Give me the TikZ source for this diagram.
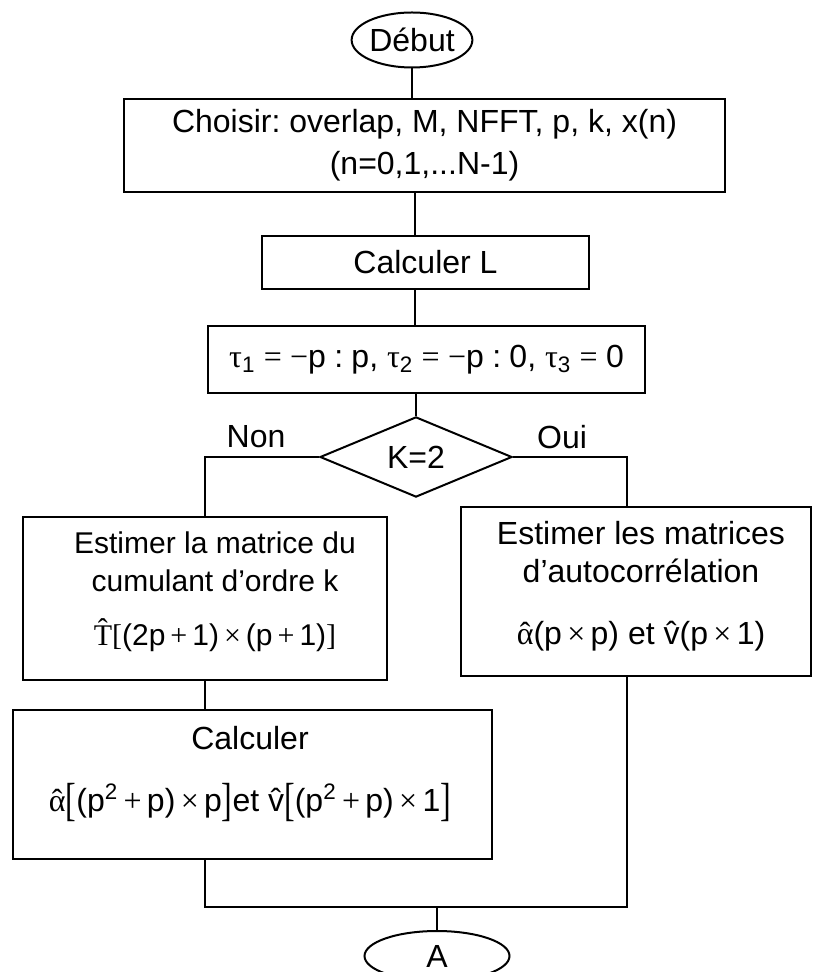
\documentclass[tikz,border=0pt]{standalone}
\usepackage{fontspec}
\usepackage{graphicx}
\setmainfont{Liberation Sans}
\newfontfamily\symf{Liberation Serif}
\usetikzlibrary{shapes.geometric}
\newcommand\bigbr[1]{\raisebox{-0.12em}{\scalebox{1}[1.45]{\symf #1}}}
\newcommand\hatx[2]{{\ooalign{#2\cr\hidewidth\raisebox{#1}{\symf\char"02C6}\hidewidth\cr}}}
\newcommand\gap{\hspace{0.26em}}
\tikzset{
  box/.style={draw, line width=1pt, rectangle, inner sep=0pt, align=center},
  term/.style={draw, ellipse, line width=1pt, inner sep=0pt},
  dec/.style={draw, diamond, line width=1pt, inner sep=0pt},
  conn/.style={line width=1pt},
  lab/.style={inner sep=0pt},
  txt/.style={inner sep=0pt, align=center}
}
\begin{document}
\begin{tikzpicture}[x=0.5pt,y=-0.5pt, every node/.style={font=\fontsize{16}{19}\selectfont\frenchspacing}]
\useasboundingbox (0,0) rectangle (814,972);
\clip (0,0) rectangle (814,972);

\node[term, minimum width=57.5pt, minimum height=27.5pt] (deb) at (412,40) {Début};
\node[box, minimum width=300.5pt, minimum height=46.5pt, font=\fontsize{16}{21}\selectfont\frenchspacing] (b1) at (424.5,145.5)
  {Choisir: overlap, M, NFFT, p, k, x(n)\\(n=0,1,...N-1)};
\node[box, minimum width=163.5pt, minimum height=26.5pt] (b2) at (425.5,262.5) {Calculer L};
\node[box, minimum width=218.5pt, minimum height=33.5pt] (b3) at (426.5,359.5)
  {{\symf τ}\textsubscript{1}\gap{\symf =}\gap{\symf −}p\gap:\gap p, {\symf τ}\textsubscript{2}\gap{\symf =}\gap{\symf −}p\gap:\gap 0, {\symf τ}\textsubscript{3}\gap{\symf =}\gap 0};
\node[dec, minimum width=96pt, minimum height=37pt] (dia) at (416,457) {K=2};
\node[lab] (non) at (256,437) {Non};
\node[lab] (oui) at (562,437) {Oui};

\node[box, minimum width=182pt, minimum height=81.5pt] (lb) at (205,598.5) {};
\node[txt, font=\fontsize{15}{19}\selectfont\frenchspacing] (lbt) at (215,592)
  {Estimer la matrice du\\cumulant d’ordre k\\[8pt]{\symf \^{T}[}(2p\,{\symf +}\,1)\,{\symf ×}\,(p\,{\symf +}\,1){\symf ]}};

\node[box, minimum width=175pt, minimum height=84.5pt] (rb) at (636,591.5) {};
\node[txt] (rbt) at (641,586)
  {Estimer les matrices\\d’autocorrélation\\[12pt]{\symf \hatx{0pt}{α}}(p\,{\symf ×}\,p) et \^{v}(p\,{\symf ×}\,1)};

\node[box, minimum width=239.5pt, minimum height=74.5pt] (cb) at (252.5,784.5) {};
\node[txt] (cbt) at (250,774)
  {Calculer\\[12pt]{\symf \hatx{0pt}{α}}\bigbr{[}(p\textsuperscript{2}\,{\symf +}\,p)\,{\symf ×}\,p\bigbr{]}et \^{v}\bigbr{[}(p\textsuperscript{2}\,{\symf +}\,p)\,{\symf ×}\,1\bigbr{]}};

\node[term, minimum width=72.5pt, minimum height=25pt] (A) at (437,956) {A};

\coordinate (sp) at (415,0);
\coordinate (j) at (437,907);
\coordinate (rx) at (627,0);

\draw[conn] (deb.south) -- (deb.south |- b1.north);
\draw[conn] (b1.south -| sp) -- (b2.north -| sp);
\draw[conn] (b2.south -| sp) -- (b3.north -| sp);
\draw[conn] (b3.south -| dia.north) -- (dia.north);
\draw[conn] (dia.west) -| (lb.north);
\draw[conn] (dia.east) -| (rb.north -| rx);
\draw[conn] (lb.south) -- (lb.south |- cb.north);
\draw[conn] (cb.south -| lb.south) |- (j) -| (rb.south -| rx);
\draw[conn] (j) -- (A.north);
\end{tikzpicture}
\end{document}
